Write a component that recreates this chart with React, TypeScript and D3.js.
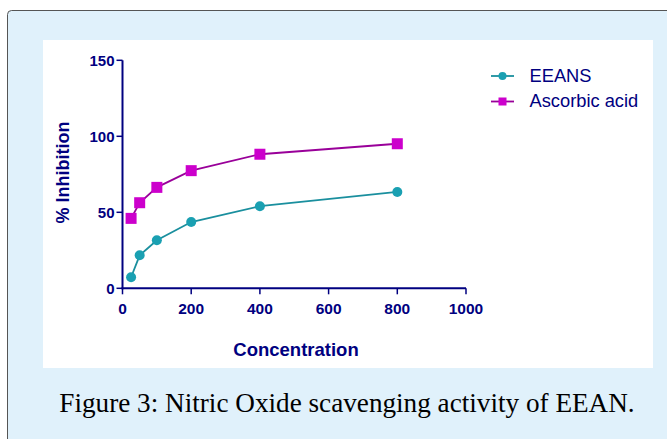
import React from "react";
import * as d3 from "d3";

const concentrations = [25, 50, 100, 200, 400, 800];
const eeansValues = [7.3, 21.7, 31.6, 43.6, 54, 63.4];
const ascorbicValues = [46, 56.3, 66.4, 77.4, 88.2, 95.1];
const xTicks = [0, 200, 400, 600, 800, 1000];
const yTicks = [0, 50, 100, 150];
const seriesNames = ["EEANS", "Ascorbic acid"];

const W = 667, H = 439;
const navy = "#000080";

export default function App() {
  const x = d3.scaleLinear().domain([0, 1000]).range([122.5, 466]);
  const y = d3.scaleLinear().domain([0, 150]).range([288.3, 60.3]);
  const line = d3.line<number>().x((_, i) => x(concentrations[i])).y(d => y(d));

  const teal = "#1a8f9e";
  const tealM = "#1aa0b2";
  const purp = "#990099";
  const purpM = "#cc00cc";

  return (
    <svg width={W} height={H} style={{ position: "absolute", left: 0, top: 0 }} fontFamily="Liberation Sans, Arial, sans-serif">
      <rect x={0} y={0} width={W} height={H} fill="#ffffff" />
      <rect x={7.5} y={10.5} width={700} height={460} rx={4} fill="#e0f1fb" stroke="#555" strokeWidth={1} />
      <rect x={43} y={40} width={610} height={328} fill="#ffffff" />

      {/* axes */}
      <line x1={x(0)} x2={x(0)} y1={y(150)} y2={y(0) + 1} stroke={navy} strokeWidth={2} />
      <line x1={x(0) - 1} x2={x(1000)} y1={y(0)} y2={y(0)} stroke={navy} strokeWidth={2} />
      {yTicks.map(t => (
        <g key={"y" + t}>
          <line x1={x(0) - 6} x2={x(0)} y1={y(t)} y2={y(t)} stroke={navy} strokeWidth={1.5} />
          <text x={x(0) - 8} y={y(t) + 5.5} textAnchor="end" fontSize={15} fontWeight="bold" fill={navy}>{t}</text>
        </g>
      ))}
      {xTicks.map(t => (
        <g key={"x" + t}>
          <line x1={x(t)} x2={x(t)} y1={y(0)} y2={y(0) + 6} stroke={navy} strokeWidth={1.5} />
          <text x={x(t)} y={y(0) + 25.5} textAnchor="middle" fontSize={15.5} fontWeight="bold" fill={navy}>{t}</text>
        </g>
      ))}
      <text x={296} y={356} textAnchor="middle" fontSize={18.5} fontWeight="bold" fill={navy}>Concentration</text>
      <text transform={`translate(69,172.5) rotate(-90)`} textAnchor="middle" fontSize={18} fontWeight="bold" fill={navy}>% Inhibition</text>

      {/* series */}
      <path d={line(ascorbicValues) || ""} fill="none" stroke={purp} strokeWidth={1.8} />
      {ascorbicValues.map((v, i) => (
        <rect key={"a" + i} x={x(concentrations[i]) - 5.5} y={y(v) - 5.5} width={11} height={11} fill={purpM} />
      ))}
      <path d={line(eeansValues) || ""} fill="none" stroke={teal} strokeWidth={1.8} />
      {eeansValues.map((v, i) => (
        <circle key={"e" + i} cx={x(concentrations[i])} cy={y(v)} r={5} fill={tealM} />
      ))}

      {/* legend */}
      <line x1={491} x2={514} y1={76} y2={76} stroke={teal} strokeWidth={1.8} />
      <circle cx={502.5} cy={76} r={4} fill={tealM} />
      <text x={529.5} y={82.3} fontSize={18.3} fill={navy}>{seriesNames[0]}</text>
      <line x1={491} x2={514} y1={101.5} y2={101.5} stroke={purp} strokeWidth={1.8} />
      <rect x={498.5} y={97.5} width={8} height={8} fill={purpM} />
      <text x={529.5} y={106.7} fontSize={18.3} fill={navy}>{seriesNames[1]}</text>

      <text x={347} y={412} textAnchor="middle" fontSize={27.2} fontFamily="Liberation Serif, serif" fill="#000">Figure 3: Nitric Oxide scavenging activity of EEAN.</text>
    </svg>
  );
}
